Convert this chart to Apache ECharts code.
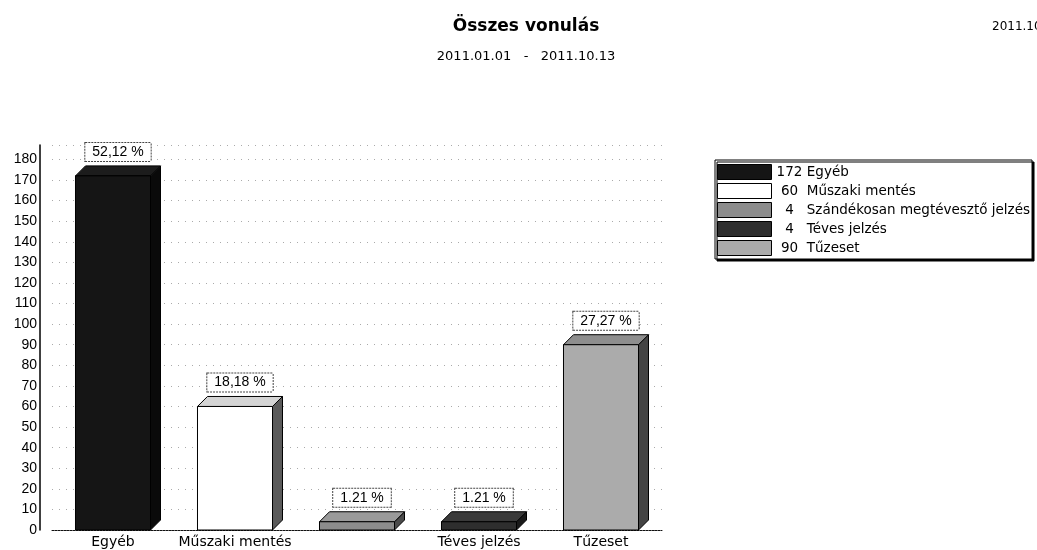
<!DOCTYPE html>
<html>
	<head>
		<meta charset="UTF-8">
		<title>Összes vonulás</title>
		<script type="text/javascript" src="https://cdn.jsdelivr.net/npm/echarts@6/dist/echarts.min.js"></script>
		<style>
			html, body { margin: 0; padding: 0; background: #fff; }
		</style>
	</head>
	<body>
	<div id="main" style="width: 1037px;height: 550px;"></div>
	<script type="text/javascript">
		// adatok
		var categories = ['Egyéb', 'Műszaki mentés', 'Szándékosan megtévesztő jelzés', 'Téves jelzés', 'Tűzeset'];
		var counts = [172, 60, 4, 4, 90];
		var pctLabels = ['52,12 %', '18,18 %', '1.21 %', '1.21 %', '27,27 %'];
		var yTicks = [0, 187, 10]; // min, max, lépés

		// színek (front, teteje, oldala)
		var frontColors = ['#151515', '#ffffff', '#8c8c8c', '#2e2e2e', '#ababab'];
		var topColors = ['#1c1c1c', '#d4d4d4', '#9a9a9a', '#3a3a3a', '#8e8e8e'];
		var sideColors = ['#0a0a0a', '#5a5a5a', '#4a4a4a', '#1a1a1a', '#444444'];

		var font = 'Arial, "Liberation Sans", sans-serif';
		var wide = '"DejaVu Sans", sans-serif';
		var myChart = echarts.init(document.getElementById("main"));

		function renderBox(params, api) {
			var i = params.seriesIndex;
			var c = api.coord([api.value(0), api.value(1)]);
			var b = api.coord([api.value(0), 0]);
			var band = api.size([1, 0])[0];
			var w = band * 0.615;
			var d = 10;
			var x0 = c[0] - w / 2, x1 = c[0] + w / 2;
			return {
				type: 'group',
				children: [
					{ type: 'polygon', shape: { points: [[x1, c[1]], [x1 + d, c[1] - d], [x1 + d, b[1] - d], [x1, b[1]]] },
					  style: { fill: sideColors[i], stroke: '#000', lineWidth: 1 } },
					{ type: 'polygon', shape: { points: [[x0, c[1]], [x0 + d, c[1] - d], [x1 + d, c[1] - d], [x1, c[1]]] },
					  style: { fill: topColors[i], stroke: '#000', lineWidth: 1 } },
					{ type: 'rect', shape: { x: x0, y: c[1], width: w, height: b[1] - c[1] },
					  style: { fill: frontColors[i], stroke: '#000', lineWidth: 1 } },
					{ type: 'text', x: (x0 + x1 + d) / 2, y: c[1] - d - 5,
					  style: { text: pctLabels[i], font: '14px ' + font, fill: '#000', align: 'center', verticalAlign: 'bottom',
					           backgroundColor: '#fff', borderColor: '#444', borderWidth: 1, borderDash: [2, 1], padding: [2, 7, 2, 7] } }
				]
			};
		}

		var series = [];
		var legendData = [];
		for (var i = 0; i < categories.length; i++) {
			series.push({
				name: categories[i],
				type: 'custom',
				renderItem: renderBox,
				itemStyle: { color: frontColors[i] },
				encode: { x: 0, y: 1 },
				data: [[i, counts[i]]],
				z: 3
			});
			legendData.push({ name: categories[i], itemStyle: { borderColor: '#000', borderWidth: 1 } });
		}

		option = {
			animation: false,
			graphic: [
				{ type: 'text', x: 526, y: 27, style: { text: 'Összes vonulás', font: 'bold 17px ' + wide, fill: '#000', align: 'center', verticalAlign: 'middle' } },
				{ type: 'text', x: 526, y: 57, style: { text: '2011.01.01   -   2011.10.13', font: '13px ' + wide, fill: '#000', align: 'center', verticalAlign: 'middle' } },
				{ type: 'text', x: 992, y: 27, style: { text: '2011.10.13', font: '12px ' + wide, fill: '#000', verticalAlign: 'middle' } }
			],
			legend: {
				orient: 'vertical',
				left: 715,
				top: 160,
				itemWidth: 54,
				itemHeight: 15,
				itemGap: 3,
				padding: [4, 2, 3, 2],
				icon: 'rect',
				selectedMode: false,
				backgroundColor: '#fff',
				borderColor: '#000',
				borderWidth: 1,
				shadowColor: '#000',
				shadowOffsetX: 2,
				shadowOffsetY: 2,
				data: legendData,
				formatter: function (name) {
					var n = counts[categories.indexOf(name)];
					return '{n|' + n + '} ' + name;
				},
				textStyle: {
					fontFamily: wide,
					fontSize: 13.5,
					color: '#000',
					rich: { n: { width: 26, align: 'right', fontFamily: wide, fontSize: 13.5 } }
				}
			},
			grid: { left: 52, width: 610, top: 145, bottom: 20 },
			xAxis: {
				type: 'category',
				data: categories,
				axisLine: { lineStyle: { color: '#111', type: [2, 1] } },
				axisTick: { show: false },
				axisLabel: {
					interval: function (idx) { return idx !== 2; },
					margin: 5,
					color: '#000',
					fontFamily: wide,
					fontSize: 14
				},
				splitLine: { show: false }
			},
			yAxis: {
				type: 'value',
				min: yTicks[0],
				max: yTicks[1],
				interval: yTicks[2],
				offset: 12,
				axisLine: { show: true, lineStyle: { color: '#000', width: 1.5 } },
				axisTick: { show: false },
				axisLabel: { showMaxLabel: false, margin: 3, color: '#000', fontFamily: font, fontSize: 14 },
				splitLine: { show: true, lineStyle: { color: '#aaa', type: [1, 6] } }
			},
			series: series
		};
		myChart.setOption(option);
	</script>
</body>
</html>
